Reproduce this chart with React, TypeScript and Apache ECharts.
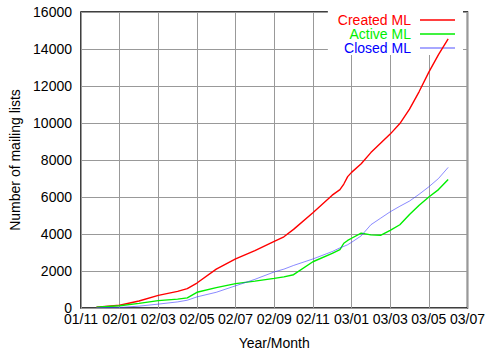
import React, { useEffect, useRef } from "react";
import * as echarts from "echarts";

// Months counted from 2001/11 (0) to 2003/07 (20)
const months = [0.8, 2, 3, 4, 5, 5.5, 6, 7, 8, 9, 10, 10.5, 11, 12, 13, 13.4, 13.6, 13.8, 14, 14.5, 15, 15.5, 16, 16.5, 17, 17.5, 18, 18.5, 19];
const createdML = [50, 150, 380, 680, 900, 1050, 1350, 2100, 2650, 3100, 3600, 3850, 4250, 5150, 6100, 6400, 6700, 7100, 7330, 7800, 8400, 8900, 9400, 9970, 10750, 11700, 12750, 13700, 14550];
const activeML = [50, 120, 250, 400, 480, 550, 850, 1100, 1320, 1450, 1600, 1680, 1800, 2500, 2950, 3150, 3500, 3650, 3770, 4050, 3950, 3930, 4200, 4500, 5050, 5550, 6000, 6400, 6950];
const closedML = [20, 30, 100, 210, 330, 420, 600, 850, 1200, 1550, 1950, 2100, 2300, 2650, 3050, 3250, 3330, 3420, 3550, 3900, 4500, 4850, 5200, 5500, 5780, 6150, 6550, 7000, 7600];

const seriesNames = ["Created ML", "Active ML", "Closed ML"];
const lineColors = ["#ff0000", "#00ee00", "rgba(60,60,255,0.6)"];
const textColors = ["#ff0000", "#00ee00", "#0000ff"];
const lineWidths = [1.4, 1.4, 1];

const FONT = "'Liberation Sans', Arial, Helvetica, sans-serif";

function monthLabel(m: number): string {
  const total = 10 + Math.round(m);
  const year = 1 + Math.floor(total / 12);
  const month = (total % 12) + 1;
  const yy = String(year).padStart(2, "0");
  const mm = String(month).padStart(2, "0");
  return `${yy}/${mm}`;
}

export default function App() {
  const ref = useRef<HTMLDivElement>(null);

  useEffect(() => {
    if (!ref.current) return;
    const chart = echarts.init(ref.current, null, { renderer: "svg" });
    const values = [createdML, activeML, closedML];

    chart.setOption({
      animation: false,
      backgroundColor: "#fff",
      textStyle: { fontFamily: FONT },
      grid: {
        left: 81,
        right: 16,
        top: 12,
        bottom: 47,
        show: true,
        borderColor: "#000",
        borderWidth: 1.5,
        backgroundColor: "transparent",
      },
      legend: {
        orient: "vertical",
        align: "right",
        right: 25,
        top: 11,
        z: 1,
        padding: [2, 8, 0, 10],
        itemGap: 0,
        itemWidth: 35,
        itemHeight: 1.5,
        icon: "rect",
        backgroundColor: "#fff",
        data: seriesNames.map((n, i) => ({
          name: n,
          textStyle: {
            color: textColors[i],
            fontSize: 14,
            lineHeight: 14,
            fontFamily: FONT,
            padding: [0, 4, 0, 0],
          },
        })),
      },
      xAxis: {
        type: "value",
        min: 0,
        max: 20,
        interval: 2,
        name: "Year/Month",
        nameLocation: "middle",
        nameGap: 28,
        nameTextStyle: { color: "#000", fontSize: 14, fontFamily: FONT },
        axisLine: { show: false },
        axisTick: { show: false },
        axisLabel: {
          color: "#000",
          fontSize: 14,
          fontFamily: FONT,
          margin: 4,
          formatter: (v: number) => monthLabel(v),
        },
        splitLine: { show: true, lineStyle: { color: "#999", width: 1 } },
      },
      yAxis: {
        type: "value",
        min: 0,
        max: 16000,
        interval: 2000,
        name: "Number of mailing lists",
        nameLocation: "middle",
        nameGap: 58,
        nameTextStyle: { color: "#000", fontSize: 14, fontFamily: FONT },
        axisLine: { show: false },
        axisTick: { show: false },
        axisLabel: {
          color: "#000",
          fontSize: 14,
          fontFamily: FONT,
          margin: 9,
          formatter: (v: number) => String(v),
        },
        splitLine: { show: true, lineStyle: { color: "#999", width: 1 } },
      },
      series: seriesNames.map((n, i) => ({
        name: n,
        type: "line",
        symbol: "none",
        showSymbol: false,
        z: 3,
        itemStyle: { color: lineColors[i] },
        lineStyle: { color: lineColors[i], width: lineWidths[i] },
        data: months.map((m, k) => [m, values[i][k]]),
      })),
    });

    return () => chart.dispose();
  }, []);

  return (
    <div
      ref={ref}
      style={{ position: "fixed", left: 0, top: 0, width: 488, height: 355 }}
    />
  );
}
